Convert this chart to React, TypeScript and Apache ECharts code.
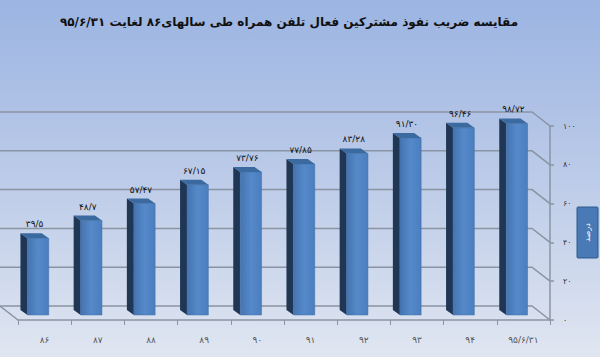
import React, { useEffect, useRef } from "react";
import * as echarts from "echarts";

const titleText = "مقایسه ضریب نفوذ مشترکین فعال تلفن همراه طی سالهای۸۶ لغایت ۹۵/۶/۳۱";
const seriesName = "درصد";
const categories = ["۸۶", "۸۷", "۸۸", "۸۹", "۹۰", "۹۱", "۹۲", "۹۳", "۹۴", "۹۵/۶/۳۱"];
const values = [39.5, 48.7, 57.47, 67.15, 73.76, 77.85, 83.28, 91.3, 96.46, 98.72];
const valueLabels = ["۳۹/۵", "۴۸/۷", "۵۷/۴۷", "۶۷/۱۵", "۷۳/۷۶", "۷۷/۸۵", "۸۳/۲۸", "۹۱/۳۰", "۹۶/۴۶", "۹۸/۷۲"];
const yTicks = [0, 20, 40, 60, 80, 100];

const FONT = "DejaVu Sans";
const faDigits = "۰۱۲۳۴۵۶۷۸۹";
const toFa = (v: number | string) =>
  String(v).replace(/[0-9]/g, (d) => faDigits[Number(d)]).replace(".", "/");

export default function App() {
  const ref = useRef<HTMLDivElement>(null);
  useEffect(() => {
    if (!ref.current) return;
    const chart = echarts.init(ref.current, null, { renderer: "svg" });
    const gridColor = "#8a94a3";
    const depthX = -18;
    const depthY = -14;
    const option: any = {
      animation: false,
      backgroundColor: new echarts.graphic.LinearGradient(0, 0, 0, 1, [
        { offset: 0, color: "#9bb4e2" },
        { offset: 0.5, color: "#bccbe8" },
        { offset: 1, color: "#e0e6f1" },
      ]),
      title: {
        text: titleText,
        left: 284,
        top: 11,
        textAlign: "center",
        textStyle: { fontFamily: FONT, fontSize: 12, fontWeight: "bold", color: "#111" },
      },
      grid: { left: 18, right: 50, top: 126, bottom: 37 },
      xAxis: {
        type: "category",
        data: categories,
        axisLine: { show: true, lineStyle: { color: gridColor, width: 1.5 } },
        axisTick: { show: true, length: 5, lineStyle: { color: gridColor, width: 1 } },
        axisLabel: { margin: 15, fontFamily: FONT, fontSize: 9, color: "#555" },
        splitLine: { show: false },
      },
      yAxis: {
        type: "value",
        position: "right",
        min: 0,
        max: 100,
        interval: 20,
        axisLine: { show: true, lineStyle: { color: gridColor, width: 1.5 } },
        axisTick: { show: true, length: 4, lineStyle: { color: gridColor, width: 1.5 } },
        axisLabel: { margin: 13, fontFamily: FONT, fontSize: 8, color: "#333", formatter: (v: number) => toFa(v) },
        splitLine: { show: false },
      },
      graphic: [
        {
          type: "rect",
          shape: { x: 577, y: 207, width: 21, height: 51, r: 1 },
          style: { fill: "#4a7ab5", stroke: "#2d5a8e", lineWidth: 1 },
        },
        {
          type: "text",
          x: 587.5,
          y: 232.5,
          rotation: Math.PI / 2,
          style: { text: seriesName, x: 0, y: 0, align: "center", verticalAlign: "middle", fontFamily: FONT, fontSize: 8, fill: "#fff" },
        },
      ],
      series: [
        {
          type: "custom",
          name: "frame",
          silent: true,
          z: 1,
          data: yTicks.map((v) => [0, v]),
          renderItem: (params: any, api: any) => {
            const v = api.value(1);
            const y = api.coord([0, v])[1];
            const cs = params.coordSys;
            const L = cs.x;
            const R = cs.x + cs.width;
            const children: any[] = [
              {
                type: "polyline",
                shape: { points: [[L + depthX, y + depthY], [R + depthX, y + depthY], [R, y]] },
                style: { stroke: gridColor, lineWidth: 1.5, fill: "none" },
              },
            ];
            if (v === 0) {
              children.push({
                type: "line",
                shape: { x1: L + depthX, y1: y + depthY, x2: L, y2: y },
                style: { stroke: gridColor, lineWidth: 1.5 },
              });
            }
            return { type: "group", children };
          },
        },
        {
          type: "custom",
          name: seriesName,
          z: 2,
          data: values.map((v, i) => [i, v]),
          renderItem: (params: any, api: any) => {
            const i = api.value(0);
            const v = api.value(1);
            const base = api.coord([i, 0]);
            const topP = api.coord([i, v]);
            const band = api.size([1, 0])[0];
            const w = band * 0.4;
            const cx = base[0] - 6.5;
            const xl = cx - w / 2;
            const xr = cx + w / 2;
            const yb = base[1] - 5;
            const yt = topP[1] - 5;
            const dx = -7;
            const dy = -5;
            return {
              type: "group",
              children: [
                {
                  type: "polygon",
                  shape: { points: [[xl, yt], [xl + dx, yt + dy], [xl + dx, yb + dy], [xl, yb]] },
                  style: { fill: "#1f3654" },
                },
                {
                  type: "rect",
                  shape: { x: xl, y: yt, width: w, height: yb - yt },
                  style: {
                    fill: new echarts.graphic.LinearGradient(0, 0, 1, 0, [
                      { offset: 0, color: "#4574b0" },
                      { offset: 0.5, color: "#5589c9" },
                      { offset: 1, color: "#4b7ebe" },
                    ]),
                    stroke: "#3d6ca6",
                    lineWidth: 0.5,
                  },
                },
                {
                  type: "polygon",
                  shape: { points: [[xl, yt], [xr, yt], [xr + dx, yt + dy], [xl + dx, yt + dy]] },
                  style: { fill: "#3b6aa0" },
                },
                {
                  type: "text",
                  style: {
                    text: valueLabels[i],
                    x: cx + dx / 2,
                    y: yt + dy - 9,
                    align: "center",
                    verticalAlign: "middle",
                    fontFamily: FONT,
                    fontSize: 9,
                    fill: "#111",
                  },
                },
              ],
            };
          },
        },
      ],
    };
    chart.setOption(option);
    return () => chart.dispose();
  }, []);
  return <div ref={ref} style={{ position: "fixed", left: 0, top: 0, width: 600, height: 357 }} />;
}
